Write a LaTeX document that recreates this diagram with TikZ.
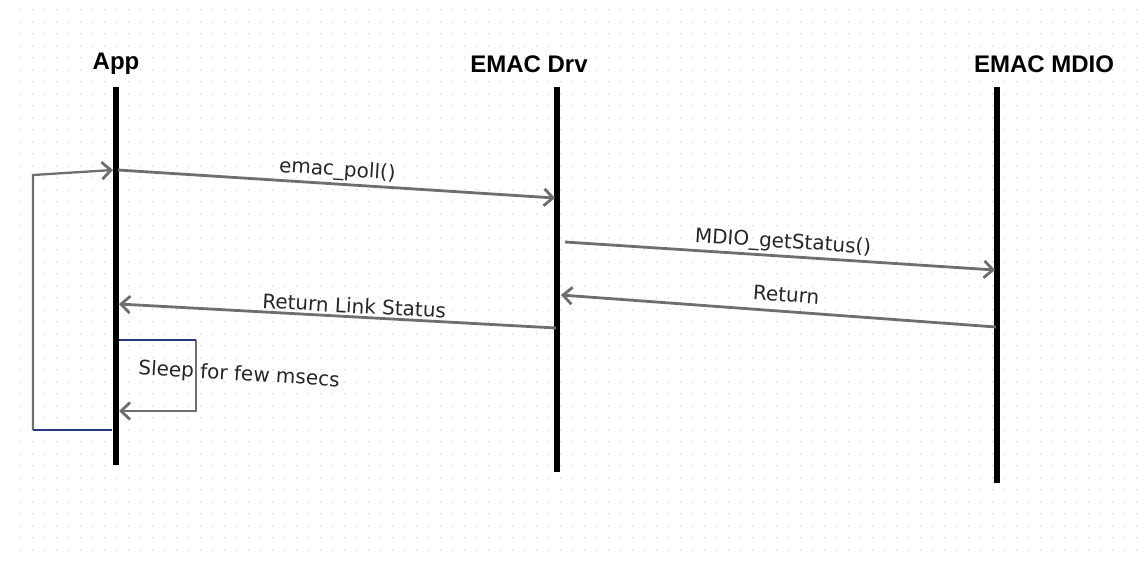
\documentclass[tikz,border=0pt]{standalone}
\usepackage{fontspec}
\setmainfont{DejaVu Sans}
\newfontfamily\headfont{Liberation Sans}
\usetikzlibrary{arrows.meta,calc,positioning}
\definecolor{MsgGray}{RGB}{110,110,110}
\definecolor{LoopBlue}{RGB}{36,56,134}
\definecolor{DotGray}{RGB}{214,214,214}
\tikzset{
  lifeline/.style={line width=5.5pt,black},
  actor/.style={font=\headfont\bfseries\fontsize{24}{28}\selectfont,inner sep=0pt},
  msg/.style={-{Straight Barb[length=9pt,width=17pt,line width=2.8pt]},
    line width=2.8pt,MsgGray},
  msglabel/.style={font=\fontsize{20}{23}\selectfont,sloped,above,
    inner sep=2pt,text=black!85},
  loopline/.style={line width=2.8pt,LoopBlue}
}

\begin{document}
\begin{tikzpicture}[x=1pt,y=-1pt]
  \useasboundingbox (0,0) rectangle (1144,563);
  % dotted background
  \fill[DotGray] foreach \gx in {20,32,...,1136} {
      foreach \gy in {9,21,...,557} { (\gx,\gy) rectangle ++(1.3,1.3) } };

  % actors and lifelines
  \node[actor] (app) at (116,64) {App};
  \node[actor] (drv) at (529,64) {EMAC Drv};
  \node[actor] (mdio) at (1044,64) {EMAC MDIO};
  \coordinate (app top) at (116,87);
  \coordinate (app bot) at (116,465);
  \coordinate (drv top) at (557,87);
  \coordinate (drv bot) at (557,472);
  \coordinate (mdio top) at (997,87);
  \coordinate (mdio bot) at (997,483);
  \draw[lifeline] (app top) -- (app bot);
  \draw[lifeline] (drv top) -- (drv bot);
  \draw[lifeline] (mdio top) -- (mdio bot);

  % polling loop
  \coordinate (loop a) at (33,430);
  \coordinate (loop b) at (33,175);
  \coordinate (loop c) at (112,430);
  \coordinate (app in) at (113,170);
  \draw[msg,line width=2.3pt] (loop a) -- (loop b) -- (app in);
  \draw[loopline] (loop a) -- (loop c);

  % messages
  \coordinate (poll s) at (118,170);
  \coordinate (poll e) at (555,198);
  \draw[msg] (poll s) -- node[msglabel,pos=0.5] (poll) {emac\_poll()} (poll e);
  \coordinate (get s) at (565,242);
  \coordinate (get e) at (995,270);
  \draw[msg] (get s) -- node[msglabel,pos=0.505] (get) {MDIO\_getStatus()} (get e);
  \coordinate (ret s) at (996,327);
  \coordinate (ret e) at (561,295);
  \draw[msg] (ret s) -- node[msglabel,pos=0.485,above=6pt] (ret) {Return} (ret e);
  \coordinate (link s) at (556,328);
  \coordinate (link e) at (119,304);
  \draw[msg] (link s) -- node[msglabel,pos=0.463] (link) {Return Link Status} (link e);

  % sleep
  \coordinate (sleep a) at (119,340);
  \coordinate (sleep b) at (196,340);
  \coordinate (sleep c) at (196,411);
  \coordinate (sleep d) at (119,411);
  \draw[msg] (sleep b) -- (sleep c) -- (sleep d);
  \draw[loopline] (sleep a) -- (sleep b);
  \node[font=\fontsize{20}{23}\selectfont,text=black!85,rotate=-3.5]
    (sleep) at (239,375) {Sleep for few msecs};
\end{tikzpicture}
\end{document}
